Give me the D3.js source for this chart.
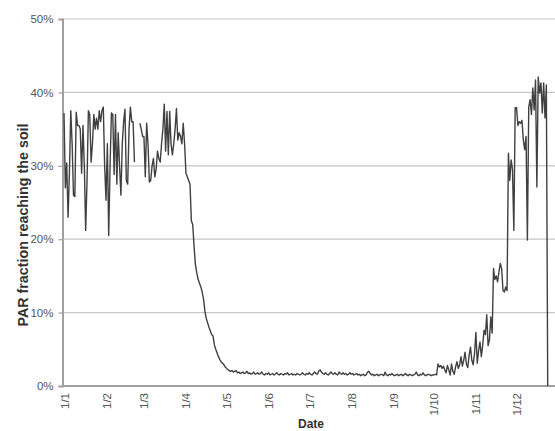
<!DOCTYPE html>
<html>
<head>
<meta charset="utf-8">
<script src="https://cdn.jsdelivr.net/npm/d3@7"></script>
<style>
  html, body { margin: 0; padding: 0; background: #ffffff; }
  svg { display: block; }
</style>
</head>
<body>
<svg id="chart" width="555" height="431"></svg>
<script>
// ---- Data (daily PAR fraction reaching the soil, in %) ----
const startDate = "2009-01-01";
const janValues = [37.2, 27, 30.4, 23, 29, 37.5, 33, 26, 25.8, 37.3, 35.5, 35.5, 35, 29, 35.5, 30, 21.2, 28, 37.5, 37, 30.5, 33, 37, 35, 36.5, 35, 37.5, 36, 37.5, 38, 30];
const febValues = [25.3, 33, 20.5, 30, 37.2, 37, 28.8, 37, 27.5, 34.5, 30, 26, 33, 36, 37.7, 28, 27.5, 35, 38, 36, 36, 30.5, null, null, null, 35.8, 35, 34];
const marValues = [34, 28.5, 35.8, 33, 27.8, 28, 30, 31, 28.5, 29.5, 32, 31, 30.5, 33, 35, 38.4, 32, 37.4, 31.5, 37.4, 33, 31.5, 33, 35, 37.8, 33.5, 34.5, 34, 33, 35.8, 33];
const aprValues = [29, 28.5, 28, 27.5, 22.5, 22, 19, 16.5, 15.4, 14.5, 14, 13.5, 12.8, 11.8, 10.2, 9.2, 8.6, 8, 7.5, 7, 6.8, 5.6, 5, 4.5, 4, 3.6, 3.3, 3.1, 2.9, 2.6];
const mayValues = [2.4, 2.2, 2.1, 2.0, 2.1, 1.9, 2.0, 2.1, 1.8, 1.9, 1.7, 1.8, 1.9, 1.7, 1.8, 2.0, 1.7, 1.8, 1.6, 1.7, 1.9, 1.6, 1.7, 1.8, 1.6, 1.7, 1.9, 1.6, 1.5, 1.7, 1.6];
const junValues = [1.8, 1.5, 1.6, 1.7, 1.5, 1.6, 1.8, 1.6, 1.5, 1.7, 1.6, 1.5, 1.7, 1.6, 1.8, 1.5, 1.6, 1.7, 1.5, 1.6, 1.5, 1.7, 1.6, 1.5, 1.6, 1.8, 1.6, 1.5, 1.7, 1.6];
const julValues = [1.8, 1.6, 1.5, 1.7, 1.9, 1.7, 1.6, 2.0, 2.2, 1.9, 1.7, 1.6, 1.8, 1.6, 1.5, 1.7, 1.9, 1.7, 1.6, 1.8, 1.6, 1.5, 1.9, 1.7, 1.6, 1.8, 1.6, 1.7, 1.5, 1.6, 1.8];
const augValues = [1.6, 1.7, 1.5, 1.6, 1.7, 1.5, 1.6, 1.4, 1.5, 1.6, 1.4, 1.5, 1.9, 2.0, 1.7, 1.5, 1.6, 1.4, 1.5, 1.6, 1.4, 1.5, 1.6, 1.5, 1.4, 1.9, 1.5, 1.4, 1.6, 1.5, 1.7];
const sepValues = [1.5, 1.4, 1.5, 1.6, 1.4, 1.5, 1.6, 1.4, 1.5, 1.7, 1.5, 1.4, 1.6, 1.5, 1.4, 1.5, 1.6, 1.9, 1.5, 1.4, 1.6, 1.5, 1.8, 1.5, 1.4, 1.5, 1.6, 1.5, 1.4, 1.5];
const octValues = [1.5, 1.6, 1.5, 3.0, 2.6, 2.8, 2.4, 2.7, 2.2, 1.8, 2.8, 2.2, 1.5, 3.0, 2.0, 1.6, 2.6, 3.3, 2.4, 2.9, 4.0, 2.7, 3.5, 4.6, 3.0, 2.5, 4.2, 5.3, 3.5, 2.9, 4.5];
const novValues = [7.3, 3.1, 4.8, 6.0, 4.0, 5.5, 7.6, 7.0, 9.7, 5.5, 6.3, 9.4, 7.2, 16.0, 14.5, 15.0, 14.2, 15.5, 16.7, 16.0, 13.0, 12.8, 13.5, 13.0, 31.7, 28, 30.8, 29.5, 21.2, 37.9];
const decValues = [37.9, 35.5, 36, 35.8, 36.2, 33.5, 32.2, 34, 19.9, 38, 39, 37, 40.6, 37.6, 41.7, 27.1, 42.1, 39.9, 41.3, 37.2, 41.3, 36.5, 41, 0];

const yTicks = [0, 10, 20, 30, 40, 50];
const monthTicks = ["2009-01-01","2009-02-01","2009-03-01","2009-04-01","2009-05-01","2009-06-01",
                    "2009-07-01","2009-08-01","2009-09-01","2009-10-01","2009-11-01","2009-12-01"];
const yTitle = "PAR fraction reaching the soil";
const xTitle = "Date";

// ---- Build series ----
const allValues = [].concat(janValues, febValues, marValues, aprValues, mayValues, junValues,
                            julValues, augValues, sepValues, octValues, novValues, decValues);
const t0 = new Date(startDate + "T00:00:00Z");
const series = allValues.map((v, i) => ({ date: d3.utcDay.offset(t0, i), value: v }));

// ---- Layout ----
const svg = d3.select("#chart");
const font = "Liberation Sans, Arial, sans-serif";
const plotLeft = 62.5, plotRight = 555, plotTop = 19, plotBottom = 386;

const x = d3.scaleUtc()
  .domain([t0, new Date("2009-12-31T00:00:00Z")])
  .range([64, 557.2]);
const y = d3.scaleLinear().domain([0, 50]).range([plotBottom, plotTop]);

// gridlines
svg.append("g")
  .selectAll("line")
  .data(yTicks.filter(d => d > 0))
  .join("line")
  .attr("x1", plotLeft).attr("x2", plotRight)
  .attr("y1", d => y(d)).attr("y2", d => y(d))
  .attr("stroke", "#c6c6c6").attr("stroke-width", 1.2);

// Y axis
const yAxis = svg.append("g")
  .attr("transform", `translate(${plotLeft},0)`)
  .call(d3.axisLeft(y).tickValues(yTicks).tickFormat(d => d + "%").tickSize(4).tickPadding(5));
yAxis.select(".domain").attr("stroke", "#a0a0a0").attr("stroke-width", 2);
yAxis.selectAll(".tick line").attr("stroke", "#a0a0a0").attr("stroke-width", 1.2);
yAxis.selectAll(".tick text")
  .attr("fill", "#555").attr("font-family", font).attr("font-size", 11.5);

// X axis
const xAxis = svg.append("g")
  .attr("transform", `translate(0,${plotBottom})`)
  .call(d3.axisBottom(x)
    .tickValues(monthTicks.map(s => new Date(s + "T00:00:00Z")))
    .tickFormat(d3.utcFormat("%-d/%-m"))
    .tickSize(0));
xAxis.select(".domain").remove();
xAxis.append("line")
  .attr("x1", plotLeft - 1).attr("x2", plotRight)
  .attr("y1", 0).attr("y2", 0)
  .attr("stroke", "#a0a0a0").attr("stroke-width", 2);
xAxis.selectAll(".tick text")
  .attr("fill", "#555").attr("font-family", font).attr("font-size", 11.5)
  .attr("transform", "rotate(-90)")
  .attr("text-anchor", "end")
  .attr("x", -7).attr("y", 0).attr("dy", "0.35em");

// line
const line = d3.line()
  .defined(d => d.value !== null)
  .x(d => x(d.date))
  .y(d => y(d.value));
svg.append("path")
  .datum(series)
  .attr("d", line)
  .attr("fill", "none")
  .attr("stroke", "#404040")
  .attr("stroke-width", 1.4)
  .attr("stroke-linejoin", "round");

// titles
svg.append("text")
  .attr("transform", `translate(23,225) rotate(-90)`)
  .attr("text-anchor", "middle")
  .attr("dy", "0.35em")
  .attr("font-family", font)
  .attr("font-size", 14.3).attr("font-weight", "bold").attr("fill", "#333")
  .text(yTitle);
svg.append("text")
  .attr("x", 311).attr("y", 427.5)
  .attr("text-anchor", "middle")
  .attr("font-family", font)
  .attr("font-size", 12).attr("font-weight", "bold").attr("fill", "#333")
  .text(xTitle);
</script>
</body>
</html>
